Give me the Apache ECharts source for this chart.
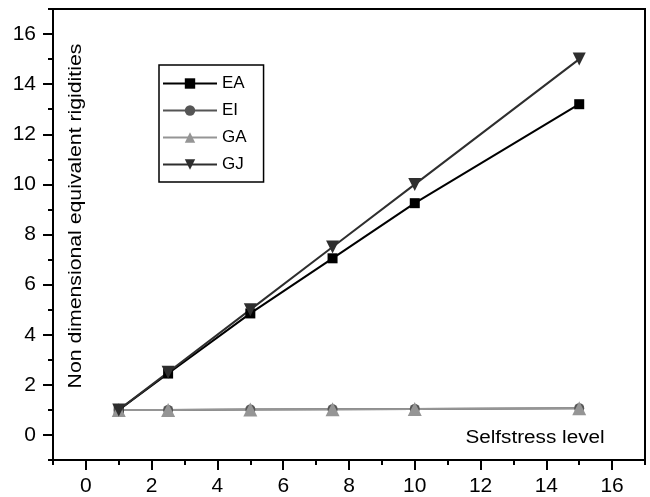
<!DOCTYPE html>
<html>
<head>
<meta charset="utf-8">
<script src="https://cdn.jsdelivr.net/npm/echarts@6/dist/echarts.min.js"></script>
<style>
  html, body { margin: 0; padding: 0; background: #fff; }
  #chart { width: 650px; height: 497px; }
</style>
</head>
<body>
<div id="chart"></div>
<script>
// Selfstress levels (x) and the non-dimensional rigidities for each stiffness term
const selfstress = [1, 2.5, 5, 7.5, 10, 15];
const EA = [1.0, 2.45, 4.85, 7.05, 9.25, 13.2];
const EI = [1.0, 1.0, 1.02, 1.03, 1.04, 1.07];
const GA = [1.0, 1.0, 1.02, 1.03, 1.04, 1.07];
const GJ = [1.0, 2.5, 5.0, 7.5, 10.0, 15.0];

const xMajorTicks = [0, 2, 4, 6, 8, 10, 12, 14, 16];
const xMinorTicks = [-1, 1, 3, 5, 7, 9, 11, 13, 15, 17];
const yMajorTicks = [0, 2, 4, 6, 8, 10, 12, 14, 16];
const yMinorTicks = [-1, 1, 3, 5, 7, 9, 11, 13, 15, 17];

const xTitle = 'Selfstress level';
const yTitle = 'Non dimensional equivalent rigidities';

const FONT = '"Liberation Sans", Arial, Helvetica, sans-serif';

const chart = echarts.init(document.getElementById('chart'), null, { renderer: 'canvas' });

function pairs(ys) { return selfstress.map((x, i) => [x, ys[i]]); }

function lineSeries(name, ys, color, symbol, size, rotate) {
  return {
    name: name,
    type: 'line',
    data: pairs(ys),
    xAxisIndex: 0,
    yAxisIndex: 0,
    symbol: symbol,
    symbolSize: size,
    symbolRotate: rotate || 0,
    showAllSymbol: true,
    lineStyle: { color: color, width: 2 },
    itemStyle: { color: color, borderWidth: 0 },
    emphasis: { disabled: true },
    animation: false,
    z: 3
  };
}

const axisCommonX = { type: 'value', min: -1, max: 17, position: 'bottom', splitLine: { show: false } };
const axisCommonY = { type: 'value', min: -1, max: 17, position: 'left', splitLine: { show: false } };
const tickStyle = { color: '#000', width: 2 };

const option = {
  backgroundColor: '#fff',
  animation: false,
  grid: {
    left: 53, right: 5, top: 9, bottom: 37,
    show: true, borderColor: '#000', borderWidth: 2, backgroundColor: 'transparent'
  },
  xAxis: [
    Object.assign({}, axisCommonX, {
      axisLine: { show: true, onZero: false, lineStyle: tickStyle },
      axisTick: { show: true, customValues: xMajorTicks, length: 10, lineStyle: tickStyle },
      axisLabel: { show: true, customValues: xMajorTicks, margin: 16, color: '#000', fontSize: 21, fontFamily: FONT }
    }),
    Object.assign({}, axisCommonX, {
      axisLine: { show: false, onZero: false },
      axisTick: { show: true, customValues: xMinorTicks, length: 5, lineStyle: tickStyle },
      axisLabel: { show: false }
    })
  ],
  yAxis: [
    Object.assign({}, axisCommonY, {
      axisLine: { show: true, onZero: false, lineStyle: tickStyle },
      axisTick: { show: true, customValues: yMajorTicks, length: 10, lineStyle: tickStyle },
      axisLabel: { show: true, customValues: yMajorTicks, margin: 17, color: '#000', fontSize: 21, fontFamily: FONT }
    }),
    Object.assign({}, axisCommonY, {
      axisLine: { show: false, onZero: false },
      axisTick: { show: true, customValues: yMinorTicks, length: 5, lineStyle: tickStyle },
      axisLabel: { show: false }
    })
  ],
  legend: {
    left: 159,
    top: 65,
    orient: 'vertical',
    backgroundColor: '#fff',
    borderColor: '#000',
    borderWidth: 1.5,
    padding: [10, 17, 9, 3],
    itemWidth: 54,
    itemHeight: 13,
    itemGap: 10,
    selectedMode: false,
    textStyle: { color: '#000', fontSize: 17, fontFamily: FONT },
    data: ['EA', 'EI', 'GA', 'GJ']
  },
  series: [
    lineSeries('EA', EA, '#000000', 'rect', 10),
    lineSeries('EI', EI, '#555555', 'circle', 10),
    lineSeries('GA', GA, '#959595', 'triangle', 14),
    lineSeries('GJ', GJ, '#2e2e2e', 'triangle', 13, 180)
  ],
  graphic: [
    {
      type: 'text',
      x: 76, y: 216,
      rotation: Math.PI / 2,
      scaleX: 1.18,
      style: { text: yTitle, fill: '#000', font: '18px ' + FONT, textAlign: 'center', textVerticalAlign: 'middle' },
      z: 10
    },
    {
      type: 'text',
      x: 535, y: 438,
      scaleX: 1.15,
      style: { text: xTitle, fill: '#000', font: '18px ' + FONT, textAlign: 'center', textVerticalAlign: 'middle' },
      z: 10
    }
  ]
};

chart.setOption(option);
</script>
</body>
</html>
